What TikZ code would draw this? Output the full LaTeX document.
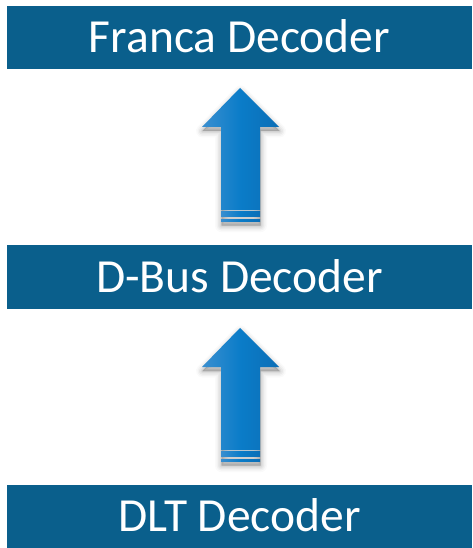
\documentclass[tikz,border=0pt]{standalone}
\usepackage{fontspec}
\setmainfont{Carlito}
\usetikzlibrary{calc}
\definecolor{boxblue}{RGB}{10,95,140}
\definecolor{arrL}{RGB}{58,143,208}
\definecolor{arrM}{RGB}{10,124,200}
\definecolor{arrR}{RGB}{12,110,182}
\tikzset{
  layerbox/.style={fill=boxblue, draw=none, minimum width=465pt, minimum height=63.5pt,
    inner sep=0pt, text=white, font=\fontsize{47.5}{47.5}\selectfont, text height=30.5pt, text depth=0pt},
}
\newcommand{\arrowpath}{(240,88) -- (279,127) -- (260,127) -- (260,210) -- (221,210) -- (221,127) -- (202,127) -- cycle}
\newcommand{\drawbigarrow}[1]{%
  \begin{scope}[yshift=#1]
    \foreach \w/\o in {13/0.02,10/0.03,7/0.04,4/0.05,1.5/0.06} {
      \filldraw[black, opacity=\o, line width=\w pt, line join=round, shift={(0.5,4)}]
        (240,88) -- (279,127) -- (260,127) -- (260,221.7) -- (221,221.7) -- (221,127) -- (202,127) -- cycle;
    }
    \shade[left color=arrL, right color=arrR, middle color=arrM] \arrowpath;
    \shade[left color=arrL, right color=arrR, middle color=arrM] (221,211.7) rectangle (260,216.7);
    \shade[left color=arrL, right color=arrR, middle color=arrM] (221,219) rectangle (260,221.7);
  \end{scope}}
\begin{document}
\begin{tikzpicture}[x=1pt,y=-1pt]
  \useasboundingbox[fill=white] (0,0) rectangle (472,548);
  \drawbigarrow{0pt}
  \drawbigarrow{-240pt}
  \node[layerbox] (franca) at (239.5,37.5) {Franca Decoder};
  \node[layerbox] (dbus) at (239.5,277) {D-Bus Decoder};
  \node[layerbox] (dlt) at (239.5,516.5) {DLT Decoder};
\end{tikzpicture}
\end{document}
